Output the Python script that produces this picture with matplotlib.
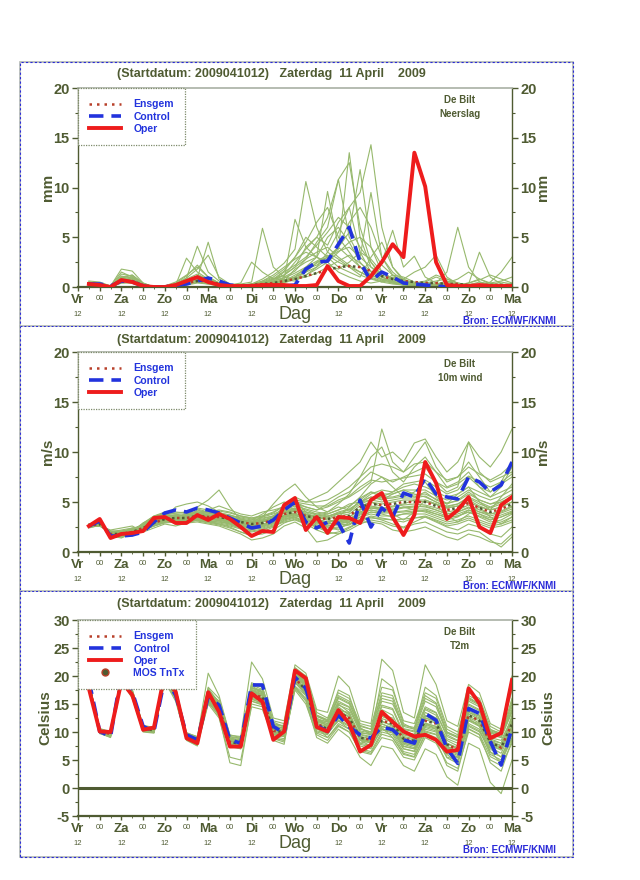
import matplotlib
matplotlib.use('Agg')
import matplotlib.pyplot as plt
from matplotlib.lines import Line2D
from matplotlib.patches import Rectangle

plt.rcParams['font.family'] = ['Liberation Sans', 'DejaVu Sans']
plt.rcParams['axes.unicode_minus'] = False

# ---------------- data ----------------
hours = [6, 12, 18, 24, 30, 36, 42, 48, 54, 60, 66, 72, 78, 84, 90, 96, 102, 108, 114, 120,
         126, 132, 138, 144, 150, 156, 162, 168, 174, 180, 186, 192, 198, 204, 210, 216, 222, 228, 234, 240]
day_ticks = [0, 24, 48, 72, 96, 120, 144, 168, 192, 216, 240]
day_names = ['Vr', 'Za', 'Zo', 'Ma', 'Di', 'Wo', 'Do', 'Vr', 'Za', 'Zo', 'Ma']
hour_row_labels = ['12', '12', '12', '12', '12', '', '12', '12', '12', '12', '12']
midnight_ticks = [12, 36, 60, 84, 108, 132, 156, 180, 204, 228]
title_text = '(Startdatum: 2009041012)   Zaterdag  11 April    2009'

# Precipitation (mm / 6h)
precip_oper = [0.3,0.2,0.0,0.7,0.5,0.1,0.0,0.0,0.2,0.6, 1.0,0.5,0.2,0.1,0.1,0.1,0.2,0.2,0.2,0.1,
               0.1,0.2,2.1,0.6,0.1,0.1,1.1,2.5,4.3,3.0, 13.5,10.1,2.5,0.2,0.1,0.1,0.2,0.1,0.1,0.1]
precip_control = [0.3,0.3,0.1,0.6,0.5,0.1,0.0,0.0,0.2,0.3, 0.6,0.9,0.6,0.2,0.1,0.1,0.1,0.1,0.1,0.2,
                  1.8,2.5,2.6,4.3,6.0,2.5,0.6,1.5,1.0,0.4, 0.3,0.2,0.1,0.0,0.0,0.0,0.0,0.0,0.0,0.0]
precip_mean = [0.3,0.2,0.0,0.6,0.6,0.2,0.0,0.0,0.2,0.4, 0.6,0.6,0.3,0.1,0.1,0.2,0.3,0.4,0.6,0.8,
               1.1,1.4,1.7,2.0,2.1,2.0,1.6,1.1,0.8,0.6, 0.5,0.4,0.4,0.3,0.3,0.2,0.2,0.2,0.2,0.2]
precip_members = [
    [0.5,0.3,0.0,0.9,1.2,0.3,0.0,0.0,0.3,0.8, 1.3,0.7,0.3,0.1,0.1,0.2,0.4,0.6,1.2,2.5, 3.8,5.0,4.2,6.5,8.0,3.5,1.5,0.8,0.4,0.2, 0.1,0.1,0.3,0.6,0.3,0.1,0.0,0.0,0.1,0.2],
    [0.3,0.4,0.1,1.8,1.6,0.4,0.0,0.1,0.5,1.2, 2.0,1.0,0.4,0.2,0.1,0.3,0.8,1.5,2.4,3.8, 10.6,6.0,3.5,2.8,2.0,1.2,0.8,0.5,1.0,0.7, 0.3,0.2,0.1,0.0,0.0,0.2,0.5,0.3,0.1,0.0],
    [0.2,0.2,0.0,0.6,0.9,0.2,0.0,0.1,0.4,1.1, 2.2,1.0,0.4,0.2,0.1,0.1,0.4,0.8,1.2,2.0, 4.0,5.0,7.0,10.8,12.5,6.0,2.5,1.0,0.6,0.3, 0.2,0.5,1.0,0.6,0.2,0.1,0.1,0.0,0.0,0.1],
    [0.4,0.2,0.0,1.0,1.2,0.4,0.0,0.0,0.3,0.9, 4.1,1.5,0.6,0.2,0.1,0.2,0.3,0.2,0.6,1.8, 2.5,3.0,5.0,6.0,4.5,2.5,1.2,0.8,0.6,0.8, 1.5,2.0,3.2,1.0,0.3,0.2,0.1,0.1,0.2,0.3],
    [0.2,0.2,0.0,0.5,0.6,0.2,0.0,0.0,0.1,0.4, 0.7,0.4,0.2,0.1,0.1,0.2,0.5,0.9,0.7,0.6, 1.2,2.0,3.5,5.5,8.0,9.5,14.3,6.0,2.0,0.6, 0.3,0.2,0.1,0.0,0.0,0.0,0.1,0.2,0.3,0.1],
    [0.3,0.1,0.0,0.8,0.6,0.2,0.0,0.0,0.2,0.5, 0.9,4.5,0.8,0.2,0.1,0.2,0.4,0.3,0.5,1.0, 2.0,3.0,9.6,4.0,3.0,2.0,1.0,0.6,0.4,0.2, 0.2,0.4,0.6,0.8,0.4,0.2,0.1,0.0,0.0,0.1],
    [0.6,0.5,0.1,1.5,1.0,0.3,0.0,0.0,0.2,0.6, 1.0,0.8,0.4,0.2,0.3,0.5,5.9,2.0,1.0,0.8, 1.5,2.5,3.0,4.0,5.5,11.8,4.0,1.5,0.8,0.4, 0.2,0.1,0.1,0.2,0.3,0.2,0.1,0.1,0.0,0.0],
    [0.2,0.3,0.0,0.4,0.5,0.1,0.0,0.0,0.1,0.3, 0.5,0.3,0.2,0.1,0.1,0.1,0.2,0.4,0.8,6.8, 4.0,3.0,2.5,1.5,1.0,0.6,0.4,0.6,1.2,1.0, 0.5,0.3,0.4,1.5,6.0,2.0,0.5,0.2,0.1,0.1],
    [0.4,0.2,0.0,0.7,0.8,0.2,0.0,0.0,0.2,2.9, 1.5,0.8,0.3,0.1,0.1,0.2,0.3,0.5,1.0,1.6, 2.8,4.5,6.0,10.8,5.0,3.0,9.5,3.0,1.5,0.6, 0.3,0.2,0.1,0.1,0.2,0.4,0.8,0.4,0.2,0.1],
    [0.3,0.3,0.1,0.9,0.7,0.2,0.0,0.0,0.2,0.6, 1.0,0.6,0.3,0.2,0.2,0.3,0.5,0.4,0.6,1.2, 1.8,2.2,3.0,3.8,13.5,5.0,2.0,1.0,0.5,0.3, 0.2,0.1,0.0,0.0,0.1,0.3,3.5,1.0,0.3,0.2],
    [0.2,0.1,0.0,0.6,0.4,0.1,0.0,0.0,0.1,0.3, 0.6,0.5,0.2,0.1,0.1,0.2,0.3,0.6,0.9,1.4, 2.0,2.6,3.2,2.5,2.0,1.5,1.0,2.5,5.7,2.0, 3.1,1.0,0.4,0.2,0.1,0.0,0.0,0.2,0.5,0.3],
    [0.4,0.3,0.0,1.1,0.9,0.3,0.0,0.0,0.2,0.7, 1.1,0.9,0.3,0.1,0.2,0.3,0.4,0.7,1.5,2.2, 3.0,4.2,5.5,7.0,6.0,4.0,2.5,1.2,0.8,0.5, 0.3,0.2,0.2,0.3,0.2,0.1,0.1,0.0,0.1,0.3],
    [0.2,0.2,0.0,0.5,0.5,0.1,0.0,0.0,0.1,0.4, 0.8,0.5,0.2,0.1,0.1,0.2,0.6,1.2,2.0,2.8, 3.5,3.0,2.2,1.8,2.5,3.5,2.8,1.5,0.8,0.4, 0.2,0.1,0.1,0.0,0.0,0.1,0.2,0.5,1.5,3.0],
    [0.3,0.2,0.0,0.8,1.0,0.2,0.0,0.0,0.2,0.5, 0.8,0.6,0.3,0.1,0.1,0.1,0.2,0.3,0.4,0.8, 1.2,1.8,2.5,3.5,4.5,5.0,4.0,2.2,1.2,0.6, 0.4,0.6,1.2,0.8,0.4,0.2,0.1,0.0,0.0,0.0],
    [0.4,0.3,0.0,0.7,0.6,0.2,0.0,0.0,0.3,0.9, 1.8,3.2,1.0,0.3,0.2,0.3,0.6,1.0,1.8,3.0, 4.5,6.5,8.0,5.0,3.5,2.0,1.2,0.7,0.5,0.3, 0.2,0.2,0.1,0.1,0.2,0.4,0.7,1.2,0.8,0.4],
    [0.3,0.2,0.0,0.6,0.7,0.2,0.0,0.0,0.1,0.4, 0.7,0.5,0.2,0.1,0.1,0.2,0.3,0.5,0.7,1.0, 1.5,2.0,2.8,4.0,6.5,8.0,6.0,3.0,1.2,0.5, 0.3,0.2,0.2,0.1,0.1,0.1,0.2,0.3,0.2,0.1],
    [0.5,0.3,0.0,1.3,1.1,0.3,0.0,0.0,0.2,0.6, 1.0,0.7,0.3,0.2,0.4,2.5,1.5,0.8,1.2,2.0, 2.8,3.5,4.0,3.0,2.2,1.5,0.9,0.5,0.3,0.2, 0.1,0.1,0.2,0.4,0.8,1.5,0.8,0.3,0.1,0.0],
    [0.2,0.1,0.0,0.4,0.4,0.1,0.0,0.0,0.1,0.2, 0.4,0.3,0.1,0.1,0.1,0.1,0.2,0.3,0.5,0.8, 1.0,1.4,2.0,2.6,3.2,2.4,1.6,1.0,0.6,0.3, 0.2,0.1,0.1,0.0,0.0,0.0,0.1,0.1,0.2,0.2],
    [0.3,0.4,0.1,1.0,0.8,0.2,0.0,0.0,0.2,0.5, 0.9,0.6,0.3,0.1,0.1,0.2,0.4,0.8,1.6,3.0, 5.0,4.0,3.0,2.0,1.5,1.0,3.0,4.5,2.0,0.8, 0.4,0.2,0.1,0.1,0.0,0.1,0.2,0.4,0.6,1.0],
    [0.2,0.2,0.0,0.5,0.4,0.1,0.0,0.0,0.1,0.3, 0.5,0.4,0.2,0.1,0.1,0.1,0.2,0.4,0.6,1.0, 1.6,2.4,3.0,3.6,4.0,3.0,2.0,1.4,0.9,0.5, 0.3,0.2,0.1,0.0,0.0,0.0,0.0,0.1,0.1,0.1],
]

# 10m wind (m/s)
wind_oper = [2.6,3.3,1.4,1.8,1.9,2.1,3.4,3.5,2.9,2.9, 3.7,3.2,3.8,3.3,2.5,1.6,2.1,2.0,4.7,5.4,
             2.2,3.5,1.9,3.5,3.4,2.9,5.2,5.9,3.5,1.7, 3.7,9.0,6.9,3.3,4.2,5.5,2.5,1.9,4.7,5.5]
wind_control = [2.6,3.1,1.6,1.6,1.7,2.0,3.0,3.9,4.2,4.0, 4.4,4.2,3.9,3.4,2.9,2.4,2.6,3.2,4.2,5.0,
                3.0,2.4,3.0,2.9,0.9,5.2,2.5,4.4,3.5,5.9, 5.5,7.4,5.8,5.5,5.3,7.5,7.0,6.0,6.7,9.0]
wind_mean = [2.6,2.8,1.8,1.8,2.0,2.4,2.9,3.3,3.4,3.4, 3.6,3.5,3.5,3.3,3.0,2.8,2.9,3.2,3.8,4.0,
             3.6,3.4,3.3,3.5,3.6,4.5,4.8,4.7,4.8,5.0, 5.0,5.0,4.6,4.2,4.4,4.9,4.4,4.0,4.3,4.8]
wind_members = [
    [2.7,3.0,1.5,1.9,2.2,2.8,3.6,4.0,3.8,3.5, 4.2,3.9,3.6,3.2,2.6,2.4,3.0,3.6,4.5,5.2, 4.0,3.2,2.8,3.5,4.5,5.5,6.8,7.5,6.5,5.5, 6.0,7.0,5.5,4.8,5.8,6.5,5.0,4.2,5.5,6.8],
    [2.5,2.8,1.8,1.5,1.8,2.5,3.0,3.5,4.5,4.8, 5.0,4.6,4.0,3.5,3.0,3.2,3.8,4.5,5.0,4.6, 3.8,3.0,2.5,2.2,3.0,4.2,5.0,4.5,3.8,3.2, 4.0,5.2,4.8,3.6,3.0,3.8,4.5,3.5,2.8,3.5],
    [2.8,2.6,2.2,2.4,2.6,2.0,2.4,2.8,2.6,2.9, 3.2,3.0,2.8,2.5,2.0,1.6,2.0,2.5,3.2,3.5, 3.0,2.5,2.0,1.8,2.4,3.0,3.5,3.2,2.8,2.5, 3.0,3.5,3.0,2.5,2.2,2.8,2.5,1.8,1.5,2.5],
    [2.6,3.1,1.6,1.4,1.9,2.9,3.4,3.8,3.2,3.6, 4.5,5.2,6.2,4.5,3.2,3.0,3.5,4.8,6.0,6.8, 5.5,4.5,4.0,4.8,5.8,7.5,9.5,10.5,8.0,7.0, 8.5,9.5,8.0,6.5,7.0,8.0,6.5,5.5,6.5,8.5],
    [2.4,2.7,2.0,2.2,2.4,2.2,2.6,3.0,3.0,3.2, 3.4,3.2,3.2,3.0,2.8,2.6,2.8,3.0,3.5,3.8, 3.2,2.8,3.0,3.2,3.0,3.8,4.2,4.0,4.2,4.5, 4.2,4.0,3.6,3.2,3.5,4.2,3.8,3.2,3.5,4.0],
    [2.7,2.9,1.7,2.0,2.3,2.6,3.2,3.6,3.6,3.3, 3.8,3.6,3.8,3.6,3.5,3.3,3.5,3.8,4.2,4.8, 4.5,4.2,4.5,5.0,5.5,6.2,7.0,12.3,9.0,8.0, 9.5,11.0,8.5,7.0,7.5,9.0,7.5,6.0,7.0,9.0],
    [2.5,2.6,1.9,1.6,1.6,2.1,2.7,3.1,3.5,3.8, 3.9,3.4,3.1,2.8,2.4,2.2,2.5,2.8,3.3,3.6, 3.4,3.6,3.8,4.2,4.8,5.0,5.5,5.2,5.8,6.2, 5.8,5.5,5.0,4.5,4.8,5.5,5.0,4.5,5.0,5.5],
    [2.6,2.8,1.8,1.7,2.1,2.4,2.8,3.2,3.3,3.0, 3.3,3.4,3.3,3.4,3.2,3.0,3.2,3.4,4.0,4.2, 3.8,3.5,3.2,3.0,3.2,4.0,4.4,4.2,4.6,4.8, 5.2,5.0,4.8,4.4,4.6,5.0,4.5,4.2,4.5,5.0],
    [2.7,3.2,1.4,1.8,2.0,2.7,3.5,3.9,4.0,3.9, 4.4,4.2,4.6,4.2,3.8,3.6,4.0,4.2,4.5,5.5, 5.0,5.5,6.0,7.0,8.0,9.0,11.0,9.5,10.0,9.0, 10.9,11.3,9.5,8.0,9.0,11.0,9.5,8.5,10.0,12.3],
    [2.5,2.7,2.1,2.0,2.2,2.3,2.7,3.0,3.1,2.9, 3.0,2.8,2.6,2.2,1.8,1.2,1.4,1.8,2.6,3.0, 2.4,1.0,1.2,1.8,2.2,2.8,3.2,3.0,2.6,2.4, 2.8,3.0,2.5,2.0,1.8,2.2,2.0,1.2,0.5,1.5],
    [2.6,2.9,1.7,1.9,2.4,2.6,3.1,3.5,3.7,3.6, 3.7,3.8,3.9,3.7,3.4,3.2,3.4,3.6,4.0,4.4, 4.2,3.8,4.0,4.5,4.2,5.0,5.8,6.2,6.0,6.5, 6.8,6.5,6.0,5.5,5.8,6.5,6.0,5.5,6.0,6.5],
    [2.8,3.0,1.6,1.5,1.7,2.3,2.9,3.3,3.2,3.5, 3.4,3.1,3.0,2.9,2.6,2.5,2.6,3.0,3.6,3.8, 3.2,3.0,2.6,2.8,3.0,3.5,4.0,3.8,3.5,3.8, 4.0,4.2,3.8,3.5,3.6,4.0,3.5,3.0,3.2,3.8],
    [2.6,2.8,1.9,1.8,2.0,2.5,3.0,3.4,3.6,3.7, 4.0,3.7,3.4,3.1,2.8,2.6,3.0,3.5,4.2,4.4, 3.6,3.2,3.6,3.8,4.0,5.2,6.0,5.5,5.5,5.8, 5.5,6.0,5.2,4.8,5.2,6.0,5.2,4.8,5.0,5.5],
    [2.7,3.1,1.5,1.8,2.1,2.9,3.6,3.8,3.5,3.4, 3.5,3.3,3.2,3.1,2.9,2.7,2.7,3.1,3.7,4.1, 3.5,3.3,3.0,3.2,3.5,4.2,4.5,4.4,4.2,4.4, 4.5,4.6,4.2,3.8,4.0,4.4,4.0,3.8,4.0,4.5],
    [2.5,2.7,2.0,1.9,2.2,2.6,3.0,3.3,3.2,3.1, 3.6,3.5,3.6,3.5,3.3,3.0,3.2,3.4,3.9,4.3, 4.0,3.7,3.5,4.0,4.3,5.0,5.2,5.5,6.0,6.8, 7.0,7.2,6.5,5.8,6.2,7.5,6.5,6.0,6.8,7.5],
    [2.6,2.9,1.8,1.6,1.8,2.2,2.6,2.9,3.0,3.0, 3.2,3.0,2.8,2.6,2.3,2.0,2.2,2.6,3.0,3.2, 2.8,2.5,2.2,2.4,2.8,3.2,3.6,3.4,3.2,3.0, 3.4,3.6,3.2,2.8,3.0,3.4,3.0,2.6,2.8,3.2],
    [2.7,3.0,1.7,1.9,2.3,2.7,3.3,3.7,3.9,4.0, 4.3,4.0,3.7,3.4,3.1,2.9,3.1,3.4,4.4,5.0, 4.5,4.2,4.8,5.5,6.0,7.0,8.0,7.5,7.0,7.5, 8.0,8.5,7.0,6.0,6.5,11.0,8.0,7.0,7.5,8.0],
    [2.5,2.6,2.1,2.1,2.3,2.4,2.8,3.1,3.3,3.2, 3.1,2.9,2.7,2.4,2.0,1.7,1.8,2.2,2.9,3.3, 2.8,2.2,1.8,2.0,2.5,3.0,3.0,2.8,2.2,2.0, 2.2,2.5,2.0,1.5,1.2,1.8,1.5,1.0,0.8,1.8],
    [2.6,2.9,1.8,1.9,2.1,2.5,3.0,3.4,3.5,3.5, 3.7,3.6,3.6,3.4,3.1,2.9,3.0,3.3,3.9,4.2, 3.8,3.6,3.4,3.8,4.0,4.8,5.2,5.0,5.2,5.4, 5.4,5.6,5.0,4.6,4.8,5.4,4.8,4.4,4.8,5.4],
    [2.5,2.7,1.9,1.7,1.9,2.3,2.8,3.2,3.3,3.3, 3.5,3.3,3.3,3.1,2.8,2.6,2.7,3.0,3.6,3.8, 3.4,3.1,3.0,3.2,3.3,4.0,4.4,4.3,4.3,4.5, 4.6,4.5,4.2,3.8,4.0,4.5,4.0,3.6,3.9,4.3],
    [2.7,3.0,1.6,1.8,2.2,2.7,3.2,3.6,3.7,3.6, 3.9,3.8,3.9,3.7,3.3,3.1,3.3,3.6,4.2,4.6, 4.3,4.0,3.8,4.2,4.6,5.4,6.0,5.8,5.8,6.2, 6.2,6.2,5.6,5.2,5.5,6.2,5.6,5.2,5.6,6.2],
    [2.6,2.8,1.9,2.0,2.1,2.3,2.7,3.1,3.2,3.2, 3.3,3.1,3.0,2.8,2.5,2.3,2.4,2.7,3.3,3.5, 3.0,2.7,2.6,2.7,2.8,3.5,3.8,3.6,3.6,3.8, 3.8,3.8,3.4,3.0,3.2,3.6,3.2,2.8,3.0,3.5],
    [2.7,3.1,1.6,1.7,2.0,2.6,3.2,3.6,3.6,3.7, 4.0,3.9,4.1,3.9,3.6,3.4,3.6,4.0,4.6,5.0, 4.8,4.6,4.6,5.2,5.6,6.5,7.2,7.0,7.2,7.4, 7.6,7.8,7.0,6.4,6.8,7.6,7.0,6.5,7.0,7.8],
    [2.5,2.8,1.8,1.8,1.9,2.4,2.9,3.3,3.4,3.3, 3.5,3.4,3.4,3.2,2.9,2.7,2.8,3.1,3.7,3.9, 3.5,3.2,3.0,3.3,3.5,4.3,4.6,4.4,4.5,4.7, 4.8,4.7,4.4,4.0,4.2,4.7,4.2,3.8,4.1,4.6],
    [2.6,3.0,1.7,1.9,2.2,2.6,3.1,3.5,3.5,3.4, 3.7,3.5,3.5,3.3,3.0,2.8,3.0,3.3,3.9,4.1, 3.7,3.5,3.3,3.6,3.8,4.6,5.0,4.8,5.0,5.2, 5.2,5.2,4.8,4.4,4.6,5.2,4.6,4.2,4.5,5.0],
    [2.8,2.7,2.0,2.1,2.3,2.4,2.8,3.2,3.2,3.1, 3.4,3.2,3.2,2.9,2.6,2.4,2.6,2.9,3.4,3.7, 3.2,2.9,2.8,2.9,3.0,3.7,4.0,3.9,3.9,4.0, 4.1,4.1,3.8,3.4,3.6,4.0,3.6,3.2,3.5,3.9],
    [2.6,2.9,1.7,1.8,2.1,2.5,3.0,3.4,3.6,3.6, 3.8,3.7,3.7,3.5,3.2,3.0,3.1,3.5,4.1,4.3, 4.0,3.8,3.6,3.9,4.2,5.0,5.5,5.3,5.4,5.6, 5.7,5.8,5.3,4.9,5.1,5.8,5.2,4.8,5.2,5.8],
    [2.5,2.6,2.0,1.9,2.0,2.2,2.6,3.0,3.0,3.0, 3.2,3.0,2.9,2.7,2.4,2.1,2.3,2.6,3.1,3.4, 2.9,2.6,2.4,2.5,2.7,3.3,3.4,3.3,3.2,3.3, 3.4,3.5,3.1,2.6,2.8,3.2,2.8,2.4,2.6,3.0],
    [2.7,3.1,1.5,1.8,2.1,2.8,3.4,3.8,3.8,3.8, 4.1,4.0,4.2,4.0,3.6,3.4,3.6,3.9,4.6,5.2, 5.0,5.0,5.2,5.8,6.5,7.5,8.5,8.8,8.5,8.0, 8.8,9.0,8.0,7.2,7.5,8.5,7.8,7.2,7.8,8.8],
    [2.6,2.8,1.8,1.7,2.0,2.4,2.8,3.2,3.3,3.2, 3.4,3.3,3.2,3.0,2.7,2.5,2.6,2.9,3.5,3.7, 3.3,3.0,2.8,3.0,3.2,3.9,4.2,4.0,4.0,4.1, 4.3,4.3,4.0,3.6,3.8,4.2,3.8,3.4,3.7,4.1],
]

# 2m temperature (Celsius)
temp_oper = [17.8,10.1,10.0,19.0,16.6,10.4,10.8,20.5,17.2,8.9, 8.0,17.1,13.6,7.4,7.4,16.9,15.4,8.6,10.1,21.0,
             19.6,10.9,10.1,13.9,11.5,6.5,7.7,13.6,11.8,10.1, 9.2,9.5,8.6,6.5,6.8,17.8,15.1,8.9,9.8,19.3]
temp_control = [19.3,10.1,9.2,20.5,17.2,11.0,10.1,19.6,16.6,9.5, 8.6,16.3,14.8,8.6,8.0,18.4,18.4,11.0,9.8,19.8,
                17.8,11.2,10.1,13.0,10.9,9.5,8.9,10.9,10.4,8.6, 8.0,13.3,12.1,7.1,4.4,14.2,13.3,8.3,4.1,10.7]
temp_mean = [18.5,10.2,9.6,19.8,16.8,10.6,10.3,20.0,16.8,9.2, 8.4,16.6,14.2,8.2,7.9,16.8,16.2,10.2,10.0,19.6,
             17.5,11.5,10.5,13.5,12.5,9.0,8.6,12.0,11.5,8.8, 8.4,12.0,11.5,7.8,6.8,13.0,12.0,8.2,7.2,11.5]
temp_members = [
    [18.0,9.8,9.0,20.3,17.3,11.0,10.5,20.8,17.5,9.0, 8.0,17.5,15.0,8.0,7.5,18.0,17.0,10.5,9.5,21.0, 19.0,12.5,11.0,15.0,13.5,8.5,8.0,14.0,13.0,9.0, 8.0,13.5,12.5,7.0,6.0,15.0,14.0,8.5,7.0,13.0],
    [19.0,10.5,10.0,19.5,16.5,10.2,10.0,19.5,16.0,9.8, 9.0,15.5,13.5,8.8,8.5,15.5,15.0,10.0,10.5,18.0, 16.0,10.5,10.0,12.0,11.0,8.0,8.5,10.5,10.0,7.5, 7.0,10.0,9.5,6.5,5.5,11.0,10.0,7.0,5.5,9.5],
    [18.3,10.0,9.4,20.0,17.0,10.8,10.6,20.5,17.2,9.5, 8.6,17.0,14.8,8.5,8.2,17.5,16.8,11.0,10.8,20.5, 18.5,12.0,11.5,15.5,14.5,10.5,10.0,15.5,15.0,11.0, 10.5,16.0,15.0,10.0,9.0,16.5,15.5,10.5,9.5,14.0],
    [18.8,10.4,9.8,19.2,16.0,10.0,9.8,19.0,15.5,8.5, 7.5,15.0,12.5,5.5,5.0,14.5,14.0,9.0,8.5,17.5, 15.0,9.5,8.5,11.0,10.0,6.5,6.0,9.0,8.5,5.5, 5.0,9.0,8.0,4.5,3.5,10.0,9.0,5.0,4.0,8.0],
    [18.4,10.3,9.7,20.1,17.0,10.7,10.4,20.3,17.0,9.3, 8.5,16.8,14.5,8.0,7.6,17.2,16.5,10.0,9.6,20.0, 18.0,11.0,10.0,14.0,12.5,8.5,7.5,12.0,11.0,7.0, 6.5,11.5,10.5,6.0,4.5,12.5,11.0,6.5,4.5,10.0],
    [18.6,10.1,9.5,19.7,16.6,10.5,10.2,20.2,17.3,9.8, 9.2,18.0,16.0,9.5,9.0,18.5,18.0,12.0,11.5,21.5, 20.0,13.5,12.5,17.0,16.0,11.5,11.0,18.0,17.5,12.0, 11.5,17.0,16.0,10.5,9.5,16.0,15.0,10.0,9.0,15.5],
    [18.2,10.0,9.3,20.5,17.5,11.2,10.8,21.0,17.8,9.6, 8.8,16.0,13.0,7.5,7.2,16.0,15.5,9.5,9.2,19.0, 17.0,11.5,11.0,13.0,11.5,9.5,9.0,11.5,10.5,8.5, 8.0,11.0,10.5,7.5,6.5,12.0,11.5,8.0,7.0,11.0],
    [18.7,10.6,10.1,19.6,16.4,10.3,10.1,19.8,16.5,8.8, 8.0,16.2,14.0,8.4,8.0,17.0,16.0,9.8,9.8,19.5, 17.8,10.0,9.5,13.8,13.5,9.0,8.5,13.0,12.5,8.0, 7.5,12.5,12.0,7.0,6.5,14.0,13.5,9.0,8.5,12.5],
    [18.5,10.2,9.6,20.0,17.0,10.5,10.0,20.0,17.0,9.0, 8.2,17.2,15.5,9.0,8.0,17.8,17.5,11.5,11.0,20.8, 18.8,12.8,12.0,14.5,13.0,9.0,8.0,13.5,12.0,9.5, 9.5,13.0,12.0,8.5,7.5,14.5,13.0,9.5,9.0,13.5],
    [18.9,10.6,9.9,19.3,16.2,10.1,9.9,19.2,15.8,8.7, 7.8,15.2,13.2,7.8,7.2,15.8,15.2,9.2,8.8,18.2, 16.5,10.8,9.0,11.5,10.5,7.0,6.5,10.0,9.5,6.5, 6.0,10.5,10.0,5.5,5.0,11.5,10.5,6.0,5.0,9.0],
    [18.1,9.7,9.1,20.4,17.6,11.1,10.7,20.6,17.6,9.9, 9.1,17.8,15.2,9.2,8.9,18.2,17.2,11.2,11.2,20.2, 18.2,12.2,11.8,16.0,15.0,11.0,10.5,16.5,16.0,10.5, 10.0,14.5,13.5,9.5,8.5,15.5,14.5,10.0,9.5,14.5],
    [18.6,10.3,9.8,19.9,16.9,10.8,10.5,20.1,16.6,9.1, 8.3,16.4,14.4,8.3,7.8,16.5,16.2,10.4,10.3,19.8, 17.2,11.2,10.2,12.5,11.8,8.8,8.2,11.0,10.5,7.8, 7.2,11.5,11.0,7.0,6.2,13.5,12.8,8.2,7.5,11.8],
    [18.4,10.1,9.4,20.2,17.1,10.9,10.6,20.4,17.4,9.4, 8.7,16.9,14.6,8.6,8.4,17.4,16.6,10.8,10.4,20.0, 18.4,11.8,11.2,14.8,14.0,10.0,9.5,14.5,14.0,9.5, 9.0,14.0,13.0,8.0,7.0,13.5,12.5,8.5,8.0,12.0],
    [18.3,10.0,9.5,20.2,17.2,10.9,10.6,20.6,17.7,9.7, 9.0,20.5,16.5,9.4,9.2,22.5,19.5,12.5,12.0,22.0, 20.5,14.0,13.5,20.0,18.0,12.0,11.5,23.0,21.0,13.5, 12.5,22.0,18.5,12.0,11.0,18.5,17.0,11.5,10.5,20.0],
    [18.8,10.5,10.0,19.4,16.3,10.2,10.0,19.4,16.0,8.6, 7.6,15.4,12.8,4.5,4.0,15.0,14.5,8.8,8.2,17.8, 15.5,9.0,8.0,10.5,9.0,5.5,4.0,7.5,7.0,4.0, 3.0,7.0,6.0,2.0,0.5,8.0,7.0,1.0,-1.0,5.0],
    [18.6,10.4,9.9,19.6,16.7,10.4,10.1,19.7,16.9,9.5, 8.9,16.8,14.1,8.0,7.4,16.4,15.8,9.6,9.4,19.2, 17.0,12.2,11.5,12.8,12.0,9.8,9.6,12.8,12.0,8.2, 7.8,12.8,12.2,8.8,8.0,12.2,11.2,7.5,6.8,10.5],
    [18.2,9.9,9.2,20.6,17.4,11.0,10.4,20.9,17.9,9.2, 8.4,17.4,15.3,8.9,8.6,18.8,18.0,11.8,10.9,21.2, 19.5,13.0,12.0,17.5,16.5,10.8,9.5,19.5,18.0,11.5, 10.5,18.0,16.5,11.0,10.0,17.0,16.0,11.0,10.0,17.5],
    [18.7,10.3,9.7,19.5,16.5,10.4,10.2,19.6,16.4,8.9, 8.1,15.8,13.6,7.6,7.0,16.0,15.0,8.5,7.8,18.8, 16.8,10.2,9.8,12.0,10.5,7.5,7.0,10.8,9.0,6.0, 5.5,9.5,8.5,4.0,3.0,10.5,9.5,4.5,3.0,8.5],
    [18.4,10.0,9.5,19.9,16.9,10.6,10.3,20.1,16.9,9.3, 8.5,16.9,14.6,8.4,8.1,17.3,16.7,10.6,10.3,20.3, 18.3,12.0,11.2,14.2,13.2,9.6,9.2,12.8,12.2,9.2, 8.8,12.5,11.8,8.0,7.2,13.8,12.8,8.8,8.0,12.5],
    [18.6,10.3,9.7,19.7,16.7,10.5,10.2,19.9,16.7,9.1, 8.3,16.5,14.0,8.1,7.8,16.6,16.0,10.0,9.8,19.4, 17.3,11.4,10.6,13.2,12.2,8.8,8.3,11.8,11.2,8.5, 8.2,11.6,11.0,7.4,6.4,12.6,11.6,7.8,6.8,11.0],
    [18.3,9.9,9.3,20.1,17.1,10.8,10.4,20.3,17.1,9.4, 8.6,17.1,14.8,8.7,8.4,17.6,17.0,11.0,10.7,20.6, 18.6,12.4,11.8,15.2,14.4,10.2,9.8,14.8,14.2,10.0, 9.6,14.2,13.4,9.2,8.4,14.8,13.8,9.8,9.2,13.8],
    [18.7,10.4,9.8,19.6,16.5,10.3,10.0,19.6,16.4,8.9, 8.0,15.9,13.4,7.7,7.3,16.2,15.6,9.6,9.2,18.9, 16.6,10.6,9.6,12.2,11.2,7.8,7.3,10.4,9.8,7.0, 6.6,10.2,9.6,6.2,5.4,11.2,10.2,6.4,5.6,9.8],
    [18.5,10.1,9.5,20.0,17.0,10.7,10.3,20.2,17.2,9.6, 8.8,17.3,15.0,8.8,8.6,17.8,17.2,11.0,10.6,20.6, 19.0,13.0,12.2,16.5,15.5,11.2,10.5,17.0,16.5,11.2, 10.8,16.5,15.2,10.0,9.2,16.2,15.0,10.2,9.6,16.0],
    [18.4,10.2,9.6,19.8,16.8,10.6,10.2,19.9,16.7,9.2, 8.4,16.5,14.0,8.0,7.6,16.6,15.8,9.8,9.6,19.2, 17.2,11.0,10.2,13.0,12.0,8.6,8.2,11.4,10.8,8.0, 7.6,11.2,10.8,7.2,6.4,12.8,12.0,8.0,7.2,11.2],
    [18.8,10.5,9.9,19.4,16.4,10.2,9.9,19.3,16.2,8.7, 7.9,15.6,13.0,7.4,7.0,15.5,14.8,8.9,8.5,18.0, 15.8,9.8,9.0,11.2,10.0,6.8,6.2,9.6,9.0,6.2, 5.6,9.8,9.0,5.4,4.4,10.6,9.6,5.6,4.6,8.8],
    [18.2,9.9,9.3,20.3,17.3,10.9,10.6,20.7,17.6,9.6, 8.9,17.5,15.4,9.1,8.8,18.4,17.6,11.4,11.0,21.0, 19.2,12.8,12.0,16.2,15.2,10.6,10.0,16.0,15.5,10.6, 10.2,15.5,14.5,9.8,9.0,15.8,14.8,10.4,9.8,15.0],
    [18.6,10.2,9.6,19.8,16.8,10.5,10.4,20.0,16.9,9.3, 8.5,16.7,14.3,8.3,8.0,17.0,16.4,10.4,10.1,19.8, 17.6,11.6,10.8,13.8,12.8,9.2,8.8,12.4,11.8,9.0, 8.6,12.2,11.6,7.9,7.0,13.2,12.3,8.4,7.6,11.8],
    [18.5,10.3,9.7,19.9,16.9,10.7,10.3,20.0,16.8,9.0, 8.2,16.3,13.8,7.9,7.5,16.3,15.6,9.5,9.2,19.0, 16.9,10.8,9.8,12.6,11.5,8.0,7.6,11.0,10.4,7.4, 7.0,10.8,10.2,6.6,5.8,12.0,11.0,7.2,6.2,10.4],
]

# ---------------- style ----------------
OLIVE = '#4f5b32'
MEMBER = '#97b96d'
RED = '#ee1c1c'
BLUE = '#2233dd'
MEANRED = '#b8402a'
BRONBLUE = '#2a2ad8'
W, H = 640.0, 880.0

fig = plt.figure(figsize=(6.4, 8.8), dpi=100)
fig.patch.set_facecolor('white')


def fx(px):
    return px / W


def fy(py):
    return 1 - py / H


panels = [
    dict(top=88, bottom=287, ylim=(0, 20), yticks=[0, 5, 10, 15, 20], yminor=2.5,
         ylabel='mm', ylx=48, yrx=543, station='De Bilt\nNeerslag', title_y=74, bron_y=321,
         members=precip_members, oper=precip_oper, control=precip_control, mean=precip_mean, mos=False,
         zero=False),
    dict(top=352, bottom=552, ylim=(0, 20), yticks=[0, 5, 10, 15, 20], yminor=2.5,
         ylabel='m/s', ylx=48, yrx=543, station='De Bilt\n10m wind', title_y=340, bron_y=586,
         members=wind_members, oper=wind_oper, control=wind_control, mean=wind_mean, mos=False,
         zero=False),
    dict(top=620, bottom=816, ylim=(-5, 30), yticks=[-5, 0, 5, 10, 15, 20, 25, 30], yminor=2.5,
         ylabel='Celsius', ylx=45, yrx=548, station='De Bilt\nT2m', title_y=604, bron_y=850,
         members=temp_members, oper=temp_oper, control=temp_control, mean=temp_mean, mos=True,
         zero=True),
]

AX_L, AX_R = 78, 512

for p in panels:
    ax = fig.add_axes([fx(AX_L), fy(p['bottom']), fx(AX_R - AX_L), (p['bottom'] - p['top']) / H])
    ax.set_xlim(0, 240)
    ax.set_ylim(*p['ylim'])

    for m in p['members']:
        ax.plot(hours, m, color=MEMBER, lw=0.8, zorder=2)
    if p['zero']:
        ax.axhline(0, color=OLIVE, lw=2.2, zorder=3)
    ax.plot(hours, p['mean'], color=OLIVE, lw=1.8, ls=(0, (1, 3)), zorder=4)
    l_mean, = ax.plot(hours, p['mean'], color=MEANRED, lw=1.8, ls=(2, (1, 3)), zorder=4)
    l_ctrl, = ax.plot(hours, p['control'], color=BLUE, lw=2.6, ls=(0, (4, 2.2)), zorder=5)
    l_oper, = ax.plot(hours, p['oper'], color=RED, lw=2.8, zorder=6, solid_joinstyle='round')

    # spines
    for s in ['left', 'right']:
        ax.spines[s].set_color(OLIVE)
        ax.spines[s].set_linewidth(1.0)
    ax.spines['top'].set_color('#a9b0a4')
    ax.spines['top'].set_linewidth(1.2)
    ax.spines['bottom'].set_color(OLIVE)
    ax.spines['bottom'].set_linewidth(1.6)

    # y ticks both sides
    ax.set_yticks(p['yticks'])
    ax.set_yticks([v + p['yminor'] for v in p['yticks'][:-1]], minor=True)
    ax.tick_params(axis='y', which='both', left=True, right=True, labelleft=True, labelright=True,
                   colors=OLIVE, direction='out')
    ax.tick_params(axis='y', which='major', length=4, width=1, labelsize=10.5, pad=2)
    ax.tick_params(axis='y', which='minor', length=2, width=0.8)
    for lab in ax.get_yticklabels():
        lab.set_fontweight('bold')

    # x ticks: day names at 12 UTC, "00" at midnight
    ax.set_xticks(day_ticks)
    ax.set_xticklabels(day_names, fontweight='bold', fontsize=9.5)
    ax.set_xticks(midnight_ticks, minor=True)
    ax.set_xticklabels(['00'] * len(midnight_ticks), minor=True, fontsize=5.5)
    ax.tick_params(axis='x', which='both', colors=OLIVE, length=3, width=1, direction='out')
    ax.tick_params(axis='x', which='major', pad=2)
    ax.tick_params(axis='x', which='minor', pad=3)

    sec = ax.secondary_xaxis('bottom')
    sec.set_xticks(day_ticks)
    sec.set_xticklabels(hour_row_labels, fontsize=5.5)
    sec.set_xticks(hours, minor=True)
    sec.tick_params(axis='x', which='major', length=0, pad=17, colors=OLIVE)
    sec.tick_params(axis='x', which='minor', length=1.5, colors=OLIVE)
    sec.spines['bottom'].set_visible(False)

    ax.text(0.5, -27.0 / (p['bottom'] - p['top']), 'Dag', transform=ax.transAxes,
            ha='center', va='center', fontsize=13, color=OLIVE)

    # y labels both sides
    ycen = (p['top'] + p['bottom']) / 2
    fig.text(fx(p['ylx']), fy(ycen), p['ylabel'], rotation=90, ha='center', va='center',
             fontsize=11, fontweight='bold', color=OLIVE)
    fig.text(fx(p['yrx']), fy(ycen), p['ylabel'], rotation=90, ha='center', va='center',
             fontsize=11, fontweight='bold', color=OLIVE)

    # title
    fig.text(fx(271), fy(p['title_y']), title_text, ha='center', va='center', fontsize=9,
             fontweight='bold', color=OLIVE)

    # station text
    ax.text(0.88, 0.965, p['station'], transform=ax.transAxes, ha='center', va='top',
            fontsize=7, fontweight='bold', color=OLIVE, linespacing=1.55)

    # source
    fig.text(fx(556), fy(p['bron_y']), 'Bron: ECMWF/KNMI', ha='right', va='center', fontsize=7,
             fontweight='bold', color=BRONBLUE)

    # legend
    h_mean = Line2D([], [], color=MEANRED, lw=1.8, ls=(0, (1, 2)))
    handles = [h_mean, l_ctrl, l_oper]
    labels = ['Ensgem', 'Control', 'Oper']
    if p['mos']:
        handles.append(Line2D([], [], ls='none', marker='o', ms=5, mfc=OLIVE, mec=MEANRED))
        labels.append('MOS TnTx')
    leg = ax.legend(handles, labels, loc='upper left', bbox_to_anchor=(0, 1), borderaxespad=0,
                    frameon=True, fancybox=False, edgecolor='#7d8a6a', facecolor='white',
                    prop={'size': 7.5, 'weight': 'bold'}, labelcolor=BLUE, handlelength=3.0,
                    handletextpad=1.2, borderpad=1.1, labelspacing=0.2, framealpha=1)
    leg.get_frame().set_linestyle((0, (1, 1)))
    leg.get_frame().set_linewidth(0.9)
    leg.set_zorder(10)

# outer frame and separators
fig.add_artist(Rectangle((fx(20), fy(857)), fx(573 - 20), (857 - 62) / H, transform=fig.transFigure,
                         fill=False, ec='#b4bab4', lw=1.2))
fig.add_artist(Rectangle((fx(20), fy(857)), fx(573 - 20), (857 - 62) / H, transform=fig.transFigure,
                         fill=False, ec=BRONBLUE, lw=0.8, ls=(0, (2, 2))))
for yy in [326, 591]:
    fig.add_artist(Line2D([fx(20), fx(573)], [fy(yy), fy(yy)], transform=fig.transFigure,
                          color='#b4bab4', lw=1.2))
    fig.add_artist(Line2D([fx(20), fx(573)], [fy(yy), fy(yy)], transform=fig.transFigure,
                          color=BRONBLUE, lw=0.7, ls=(0, (2, 2))))

fig.savefig('out.png', dpi=100, facecolor='white')
